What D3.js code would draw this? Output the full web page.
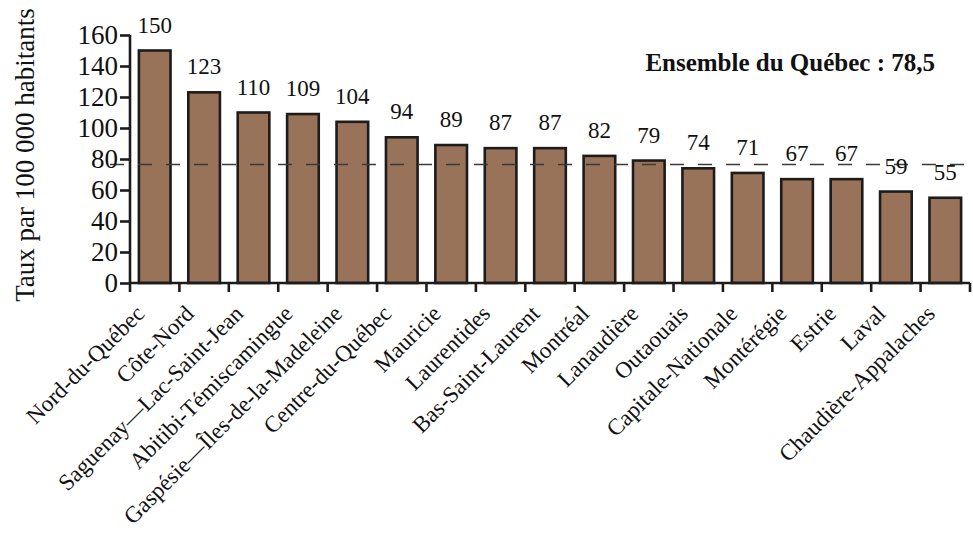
<!DOCTYPE html>
<html><head><meta charset="utf-8">
<script src="https://cdn.jsdelivr.net/npm/d3@7"></script>
<style>body{margin:0;background:#fff}svg{display:block}</style>
</head><body><svg id="c" width="973" height="535"></svg>
<script>
const categories = ["Nord-du-Québec","Côte-Nord","Saguenay—Lac-Saint-Jean","Abitibi-Témiscamingue","Gaspésie—Îles-de-la-Madeleine","Centre-du-Québec","Mauricie","Laurentides","Bas-Saint-Laurent","Montréal","Lanaudière","Outaouais","Capitale-Nationale","Montérégie","Estrie","Laval","Chaudière-Appalaches"];
const values = [150,123,110,109,104,94,89,87,87,82,79,74,71,67,67,59,55];
const yTicks = [0,20,40,60,80,100,120,140,160];
const averageLabel = "Ensemble du Québec : 78,5";
const averageLineLevel = 76.5; // position of the dashed line as drawn in the picture
const yTitle = "Taux par 100 000 habitants";

const FONT = "Liberation Serif";
const INK = "#1e1b1b";
const TXT = "#111";
const svg = d3.select("#c");
const x = d3.scaleBand().domain(categories).range([130, 970]).paddingInner(0.36).paddingOuter(0.18);
const y = d3.scaleLinear().domain([0, 160]).range([283, 35]);

// bars
svg.append("g").selectAll("rect").data(values).join("rect")
  .attr("x", (d,i) => x(categories[i]))
  .attr("y", d => y(d))
  .attr("width", x.bandwidth())
  .attr("height", d => y(0) - y(d))
  .attr("fill", "#98735a")
  .attr("stroke", INK)
  .attr("stroke-width", 2.6);

// average dashed line
svg.append("line")
  .attr("x1", 110).attr("x2", 973)
  .attr("y1", y(averageLineLevel)).attr("y2", y(averageLineLevel))
  .attr("stroke", "#3a3a3a").attr("stroke-width", 1.4)
  .attr("stroke-dasharray", "14,14");

// value labels
svg.append("g").selectAll("text").data(values).join("text")
  .attr("x", (d,i) => x(categories[i]) + x.bandwidth()/2)
  .attr("y", d => y(d) - 18)
  .attr("text-anchor", "middle")
  .attr("font-family", FONT)
  .attr("font-size", 23)
  .attr("fill", TXT)
  .text(d => d);

// y axis
const yAxis = d3.axisLeft(y).tickValues(yTicks).tickSize(10).tickPadding(2).tickFormat(d3.format("d"));
const gy = svg.append("g").attr("transform", "translate(130,0)").call(yAxis).attr("font-family", FONT);
gy.select(".domain").attr("stroke", INK).attr("stroke-width", 2.6).attr("d", `M0,${y(160)}V${y(0)}`);
gy.selectAll(".tick line").attr("stroke", INK).attr("stroke-width", 2.6);
gy.selectAll(".tick text").attr("font-family", FONT).attr("font-size", 27).attr("fill", TXT);

// x axis
const gx = svg.append("g").attr("transform", `translate(0,${y(0)})`);
gx.append("line").attr("x1", 130).attr("x2", 970).attr("y1", 0).attr("y2", 0)
  .attr("stroke", INK).attr("stroke-width", 2.6);
const bounds = categories.map(c => x(c) - x.step()*x.paddingInner()/2);
bounds.push(970);
gx.selectAll("line.t").data(bounds).join("line").attr("class","t")
  .attr("x1", d => d).attr("x2", d => d).attr("y1", 0).attr("y2", 9)
  .attr("stroke", INK).attr("stroke-width", 2.6);
gx.selectAll("text").data(categories).join("text")
  .attr("text-anchor", "end")
  .attr("font-family", FONT)
  .attr("font-size", 23)
  .attr("fill", TXT)
  .attr("transform", d => `translate(${x(d) + x.bandwidth()/2 - 9},${32}) rotate(-45)`)
  .text(d => d);

// y title
svg.append("text")
  .attr("transform", "translate(34,155) rotate(-90)")
  .attr("text-anchor", "middle")
  .attr("font-family", FONT)
  .attr("font-size", 27)
  .attr("fill", TXT)
  .text(yTitle);

// average annotation
svg.append("text")
  .attr("x", 935).attr("y", 71)
  .attr("text-anchor", "end")
  .attr("font-family", FONT)
  .attr("font-size", 25)
  .attr("font-weight", "bold")
  .attr("fill", TXT)
  .text(averageLabel);
</script></body></html>
